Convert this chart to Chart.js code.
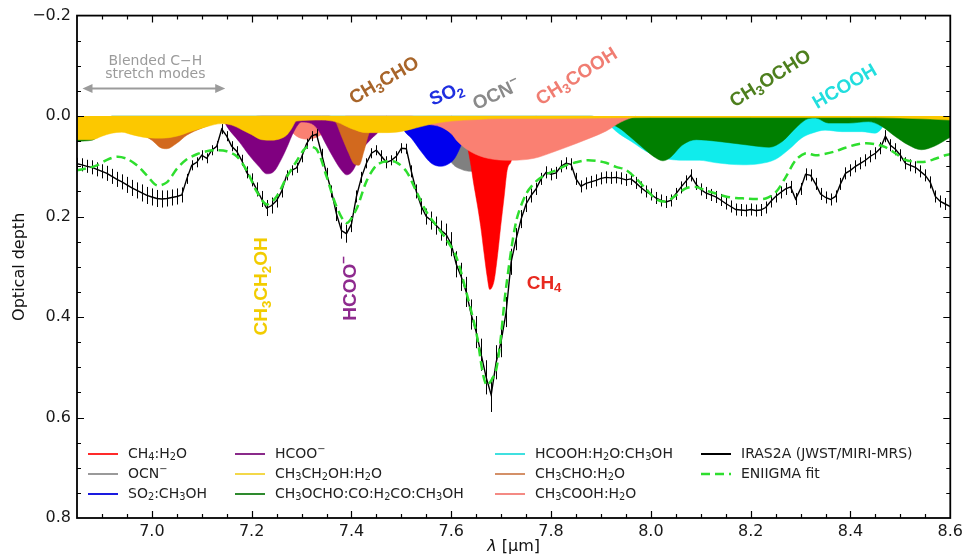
<!DOCTYPE html>
<html>
<head>
<meta charset="utf-8">
<title>IRAS2A ice fit</title>
<script src="https://cdn.jsdelivr.net/npm/chart.js@4.4.1/dist/chart.umd.min.js"></script>
<style>
  html, body { margin: 0; padding: 0; background: #fff; }
</style>
</head>
<body>
<canvas id="spec" width="967" height="556"></canvas>
<script>
// observed spectrum (0.01 um grid starting at 6.85)
const obsStart = 6.85;
const obsStep = 0.01;
const obsTau = [
  0.095, 0.097, 0.100, 0.102, 0.106, 0.110, 0.114, 0.120, 0.126, 0.131,
  0.137, 0.143, 0.148, 0.153, 0.158, 0.161, 0.164, 0.165, 0.164, 0.162,
  0.160, 0.157, 0.125, 0.098, 0.092, 0.078, 0.084, 0.068, 0.060, 0.026,
  0.040, 0.060, 0.070, 0.088, 0.112, 0.127, 0.146, 0.165, 0.183, 0.178,
  0.168, 0.150, 0.118, 0.108, 0.103, 0.082, 0.055, 0.040, 0.036, 0.075,
  0.114, 0.150, 0.195, 0.228, 0.234, 0.215, 0.160, 0.122, 0.094, 0.074,
  0.068, 0.080, 0.092, 0.088, 0.080, 0.064, 0.065, 0.110, 0.150, 0.180,
  0.200, 0.208, 0.218, 0.228, 0.236, 0.255, 0.295, 0.320, 0.350, 0.395,
  0.430, 0.475, 0.520, 0.555, 0.490, 0.448, 0.390, 0.290, 0.245, 0.205,
  0.175, 0.158, 0.145, 0.125, 0.112, 0.116, 0.113, 0.100, 0.094, 0.096,
  0.125, 0.140, 0.134, 0.131, 0.128, 0.124, 0.122, 0.123, 0.122, 0.124,
  0.127, 0.125, 0.133, 0.142, 0.150, 0.156, 0.163, 0.168, 0.171, 0.168,
  0.155, 0.142, 0.130, 0.118, 0.135, 0.146, 0.153, 0.157, 0.161, 0.167,
  0.174, 0.180, 0.186, 0.187, 0.188, 0.186, 0.188, 0.187, 0.182, 0.170,
  0.160, 0.152, 0.145, 0.141, 0.165, 0.145, 0.116, 0.118, 0.135, 0.155,
  0.162, 0.166, 0.160, 0.135, 0.114, 0.108, 0.100, 0.094, 0.088, 0.080,
  0.074, 0.064, 0.040, 0.058, 0.066, 0.078, 0.094, 0.098, 0.102, 0.110,
  0.118, 0.132, 0.160, 0.170, 0.175, 0.180
];
const obsErr = [
  0.012, 0.013, 0.013, 0.014, 0.014, 0.014, 0.015, 0.015, 0.015, 0.015,
  0.016, 0.016, 0.016, 0.017, 0.017, 0.017, 0.017, 0.017, 0.016, 0.016,
  0.016, 0.015, 0.010, 0.010, 0.010, 0.010, 0.010, 0.010, 0.010, 0.010,
  0.010, 0.010, 0.010, 0.011, 0.012, 0.013, 0.014, 0.016, 0.016, 0.016,
  0.014, 0.012, 0.010, 0.010, 0.010, 0.010, 0.010, 0.010, 0.010, 0.010,
  0.011, 0.012, 0.014, 0.016, 0.018, 0.016, 0.012, 0.011, 0.010, 0.010,
  0.010, 0.012, 0.012, 0.010, 0.010, 0.010, 0.010, 0.012, 0.014, 0.016,
  0.016, 0.018, 0.018, 0.020, 0.022, 0.024, 0.026, 0.028, 0.030, 0.030,
  0.032, 0.032, 0.034, 0.034, 0.034, 0.032, 0.030, 0.026, 0.022, 0.018,
  0.016, 0.014, 0.012, 0.012, 0.012, 0.012, 0.012, 0.012, 0.012, 0.012,
  0.012, 0.012, 0.012, 0.012, 0.012, 0.012, 0.012, 0.012, 0.012, 0.012,
  0.012, 0.012, 0.012, 0.012, 0.012, 0.012, 0.012, 0.012, 0.012, 0.012,
  0.012, 0.012, 0.012, 0.012, 0.012, 0.012, 0.012, 0.012, 0.012, 0.012,
  0.012, 0.012, 0.012, 0.012, 0.012, 0.012, 0.012, 0.012, 0.012, 0.012,
  0.012, 0.012, 0.012, 0.012, 0.012, 0.012, 0.012, 0.012, 0.012, 0.012,
  0.012, 0.012, 0.012, 0.012, 0.012, 0.012, 0.012, 0.012, 0.012, 0.012,
  0.012, 0.012, 0.012, 0.012, 0.012, 0.012, 0.012, 0.012, 0.012, 0.012,
  0.012, 0.012, 0.012, 0.012, 0.012, 0.012
];

// ENIIGMA fit (0.02 um grid starting at 6.85)
const fitStart = 6.85;
const fitStep = 0.02;
const fitTau = [
  0.108, 0.104, 0.098, 0.087, 0.081, 0.085, 0.098, 0.118, 0.138, 0.132,
  0.105, 0.086, 0.076, 0.070, 0.068, 0.070, 0.080, 0.108, 0.150, 0.176,
  0.160, 0.122, 0.090, 0.062, 0.066, 0.120, 0.180, 0.213, 0.185, 0.130,
  0.098, 0.090, 0.092, 0.110, 0.150, 0.190, 0.218, 0.245, 0.280, 0.350,
  0.430, 0.535, 0.505, 0.340, 0.210, 0.155, 0.130, 0.116, 0.108, 0.098,
  0.092, 0.088, 0.089, 0.093, 0.101, 0.107, 0.124, 0.145, 0.165, 0.170,
  0.158, 0.144, 0.141, 0.148, 0.154, 0.160, 0.163, 0.164, 0.165, 0.164,
  0.152, 0.122, 0.088, 0.074, 0.078, 0.075, 0.070, 0.063, 0.057, 0.054,
  0.056, 0.062, 0.074, 0.087, 0.091, 0.091, 0.085, 0.078, 0.074
];

// ice components (wavelength, optical depth)
const ch4Lam = [7.60, 7.62, 7.63, 7.638, 7.645, 7.652, 7.659, 7.666, 7.672, 7.677, 7.682, 7.686, 7.693, 7.699, 7.706, 7.712, 7.72, 7.73, 7.75, 7.77];
const ch4Tau = [0.0, 0.02, 0.05, 0.09, 0.135, 0.175, 0.22, 0.275, 0.32, 0.345, 0.34, 0.327, 0.275, 0.22, 0.16, 0.108, 0.09, 0.05, 0.015, 0.0];

const ocnLam = [7.56, 7.58, 7.60, 7.62, 7.64, 7.66, 7.68, 7.70, 7.72];
const ocnTau = [0.0, 0.05, 0.092, 0.106, 0.110, 0.108, 0.095, 0.06, 0.0];

const so2Lam = [7.49, 7.507, 7.52, 7.54, 7.56, 7.58, 7.595, 7.607, 7.62, 7.635, 7.65];
const so2Tau = [0.0, 0.031, 0.044, 0.071, 0.094, 0.10, 0.095, 0.084, 0.058, 0.025, 0.0];

const hcooLam = [7.14, 7.15, 7.175, 7.195, 7.215, 7.23, 7.245, 7.26, 7.27, 7.285, 7.30, 7.32, 7.335, 7.35, 7.365, 7.38, 7.39, 7.40, 7.41, 7.42, 7.44, 7.455, 7.47];
const hcooTau = [0.0, 0.02, 0.051, 0.078, 0.101, 0.115, 0.11, 0.085, 0.064, 0.03, 0.012, 0.015, 0.03, 0.058, 0.085, 0.108, 0.117, 0.112, 0.095, 0.07, 0.045, 0.03, 0.0];

const ethLam = [6.85, 6.88, 6.90, 6.92, 6.94, 6.96, 6.99, 7.02, 7.05, 7.08, 7.11, 7.14, 7.16, 7.18, 7.20, 7.22, 7.24, 7.26, 7.27, 7.28, 7.29, 7.34, 7.37, 7.40, 7.43, 7.46, 7.49, 7.52, 7.56, 7.60, 7.65, 7.70, 7.80, 7.90, 8.00, 8.20, 8.40, 8.50, 8.56, 8.60];
const ethTau = [0.047, 0.047, 0.040, 0.034, 0.032, 0.037, 0.043, 0.044, 0.040, 0.030, 0.021, 0.015, 0.018, 0.027, 0.037, 0.047, 0.048, 0.044, 0.038, 0.025, 0.010, 0.008, 0.012, 0.025, 0.033, 0.033, 0.032, 0.026, 0.016, 0.010, 0.007, 0.005, 0.005, 0.004, 0.003, 0.003, 0.003, 0.004, 0.006, 0.008];

const mfLam = [6.85, 6.88, 6.90, 6.92, 7.88, 7.91, 7.937, 7.957, 7.985, 8.011, 8.024, 8.037, 8.064, 8.091, 8.131, 8.197, 8.237, 8.264, 8.29, 8.316, 8.33, 8.356, 8.396, 8.436, 8.462, 8.489, 8.515, 8.542, 8.568, 8.60];
const mfTau = [0.05, 0.048, 0.03, 0.0, 0.0, 0.012, 0.024, 0.040, 0.064, 0.084, 0.089, 0.084, 0.057, 0.047, 0.050, 0.058, 0.062, 0.050, 0.024, 0.005, 0.004, 0.014, 0.014, 0.011, 0.020, 0.040, 0.057, 0.067, 0.060, 0.042];

const faLam = [7.90, 7.93, 7.96, 8.00, 8.044, 8.07, 8.097, 8.131, 8.184, 8.217, 8.25, 8.277, 8.303, 8.323, 8.349, 8.383, 8.423, 8.449, 8.462, 8.475];
const faTau = [0.0, 0.03, 0.05, 0.075, 0.087, 0.088, 0.088, 0.093, 0.097, 0.095, 0.086, 0.066, 0.043, 0.034, 0.028, 0.031, 0.031, 0.034, 0.025, 0.0];

const acdLam = [6.95, 6.98, 7.00, 7.02, 7.03, 7.05, 7.07, 7.10, 7.13, 7.16, 7.19, 7.22, 7.34, 7.355, 7.368, 7.38, 7.395, 7.405, 7.415, 7.425, 7.435, 7.45, 7.47];
const acdTau = [0.0, 0.035, 0.048, 0.064, 0.065, 0.054, 0.038, 0.024, 0.013, 0.006, 0.003, 0.0, 0.0, 0.0, 0.011, 0.04, 0.075, 0.095, 0.098, 0.07, 0.035, 0.015, 0.0];

const aaLam = [7.25, 7.27, 7.29, 7.31, 7.33, 7.35, 7.37, 7.39, 7.52, 7.55, 7.58, 7.60, 7.613, 7.639, 7.673, 7.719, 7.766, 7.806, 7.852, 7.88, 7.91, 7.94, 7.97];
const aaTau = [0.0, 0.02, 0.04, 0.046, 0.042, 0.03, 0.015, 0.0, 0.0, 0.015, 0.022, 0.035, 0.051, 0.071, 0.084, 0.088, 0.084, 0.071, 0.054, 0.043, 0.03, 0.012, 0.0];

const xTickVals = [7.0, 7.2, 7.4, 7.6, 7.8, 8.0, 8.2, 8.4, 8.6];
const xTickLabels = ['7.0', '7.2', '7.4', '7.6', '7.8', '8.0', '8.2', '8.4', '8.6'];
const yTickVals = [-0.2, 0.0, 0.2, 0.4, 0.6, 0.8];
const yTickLabels = ['\u22120.2', '0.0', '0.2', '0.4', '0.6', '0.8'];

// molecule labels written on the plot (data coordinates)
const molLabels = [
  { text: 'CH_3CHO', lam: 7.466, tau: -0.070, rot: -30, color: '#a8652a' },
  { text: 'SO_2', lam: 7.591, tau: -0.043, rot: -22, color: '#1f2fe0' },
  { text: 'OCN^\u2212', lam: 7.691, tau: -0.042, rot: -25, color: '#8a8a8a' },
  { text: 'CH_3COOH', lam: 7.852, tau: -0.078, rot: -32, color: '#f07d72' },
  { text: 'CH_3OCHO', lam: 8.240, tau: -0.074, rot: -32, color: '#4e7f1e' },
  { text: 'HCOOH', lam: 8.389, tau: -0.058, rot: -30, color: '#22dede' },
  { text: 'CH_3CH_2OH', lam: 7.221, tau: 0.339, rot: -90, color: '#f2cc00' },
  { text: 'HCOO^\u2212', lam: 7.398, tau: 0.343, rot: -90, color: '#8e2a8e' },
  { text: 'CH_4', lam: 7.786, tau: 0.333, rot: 0, color: '#e82a20' }
];

const legendColumns = [
  ['CH_4:H_2O', 'OCN^\u2212', 'SO_2:CH_3OH'],
  ['HCOO^\u2212', 'CH_3CH_2OH:H_2O', 'CH_3OCHO:CO:H_2CO:CH_3OH'],
  ['HCOOH:H_2O:CH_3OH', 'CH_3CHO:H_2O', 'CH_3COOH:H_2O'],
  ['IRAS2A (JWST/MIRI-MRS)', 'ENIIGMA fit']
];

function pts(lam, tau) {
  return lam.map((l, i) => ({ x: l, y: tau[i] }));
}
function gridPts(start, step, tau) {
  return tau.map((t, i) => ({ x: +(start + i * step).toFixed(3), y: t }));
}

function ice(label, lam, tau, color, legendColor, order) {
  return {
    label, data: pts(lam, tau), order, legendColor,
    backgroundColor: color, borderColor: color, borderWidth: 0.5,
    fill: 'origin', pointRadius: 0, cubicInterpolationMode: 'monotone'
  };
}

// draws "CH_3" style text: _x is subscript, ^x superscript
function drawRich(ctx, text, x, y, size, weight, family, align) {
  const parts = [];
  for (let i = 0; i < text.length; i++) {
    const c = text[i];
    if ((c === '_' || c === '^') && i + 1 < text.length) {
      parts.push({ t: text[i + 1], k: c });
      i++;
    } else if (parts.length && parts[parts.length - 1].k === '') {
      parts[parts.length - 1].t += c;
    } else {
      parts.push({ t: c, k: '' });
    }
  }
  const small = size * 0.7;
  const fontFor = k => `${weight} ${k ? small : size}px ${family}`;
  let total = 0;
  parts.forEach(p => {
    ctx.font = fontFor(p.k);
    p.w = ctx.measureText(p.t).width;
    total += p.w;
  });
  let cx = align === 'center' ? x - total / 2 : x;
  ctx.textAlign = 'left';
  ctx.textBaseline = 'middle';
  parts.forEach(p => {
    ctx.font = fontFor(p.k);
    const dy = p.k === '_' ? size * 0.27 : (p.k === '^' ? -size * 0.32 : 0);
    ctx.fillText(p.t, cx, y + dy);
    cx += p.w;
  });
}

// vertical error bars on the observed spectrum
const errorBars = {
  id: 'errorBars',
  afterDatasetDraw(chart, args) {
    const ds = chart.data.datasets[args.index];
    if (!ds.errors) return;
    const { ctx, chartArea: a, scales: { x, y } } = chart;
    ctx.save();
    ctx.beginPath();
    ctx.rect(a.left, a.top, a.right - a.left, a.bottom - a.top);
    ctx.clip();
    ctx.strokeStyle = '#000';
    ctx.lineWidth = 1;
    ctx.beginPath();
    ds.data.forEach((p, i) => {
      const px = Math.round(x.getPixelForValue(p.x)) + 0.5;
      ctx.moveTo(px, y.getPixelForValue(p.y - ds.errors[i]));
      ctx.lineTo(px, y.getPixelForValue(p.y + ds.errors[i]));
    });
    ctx.stroke();
    ctx.restore();
  }
};

// frame, inward ticks, annotations, legend, axis titles
const decor = {
  id: 'decor',
  afterDraw(chart) {
    const { ctx, chartArea: a, scales: { x, y } } = chart;
    ctx.save();

    // inward ticks on all four sides
    ctx.strokeStyle = '#000';
    ctx.lineWidth = 1.2;
    ctx.beginPath();
    for (let k = 138; k < 172; k++) {
      const px = Math.round(x.getPixelForValue(k * 0.05)) + 0.5;
      const len = k % 4 === 0 ? 7 : 4;
      ctx.moveTo(px, a.bottom); ctx.lineTo(px, a.bottom - len);
      ctx.moveTo(px, a.top); ctx.lineTo(px, a.top + len);
    }
    for (let k = -3; k < 16; k++) {
      const py = Math.round(y.getPixelForValue(k * 0.05)) + 0.5;
      const len = k % 4 === 0 ? 7 : 4;
      ctx.moveTo(a.left, py); ctx.lineTo(a.left + len, py);
      ctx.moveTo(a.right, py); ctx.lineTo(a.right - len, py);
    }
    ctx.stroke();

    // frame
    ctx.lineWidth = 1.8;
    ctx.strokeRect(a.left, a.top, a.right - a.left, a.bottom - a.top);

    // blended C-H arrow
    const ay = y.getPixelForValue(-0.055);
    const ax0 = x.getPixelForValue(6.861);
    const ax1 = x.getPixelForValue(7.147);
    ctx.strokeStyle = '#9b9b9b';
    ctx.fillStyle = '#9b9b9b';
    ctx.lineWidth = 2;
    ctx.beginPath();
    ctx.moveTo(ax0 + 6, ay); ctx.lineTo(ax1 - 6, ay);
    ctx.stroke();
    ctx.beginPath();
    ctx.moveTo(ax0, ay); ctx.lineTo(ax0 + 10, ay - 4.5); ctx.lineTo(ax0 + 10, ay + 4.5); ctx.closePath();
    ctx.moveTo(ax1, ay); ctx.lineTo(ax1 - 10, ay - 4.5); ctx.lineTo(ax1 - 10, ay + 4.5); ctx.closePath();
    ctx.fill();
    ctx.font = '14px "DejaVu Sans"';
    ctx.textAlign = 'center';
    ctx.textBaseline = 'middle';
    ctx.fillText('Blended C\u2212H', x.getPixelForValue(7.007), y.getPixelForValue(-0.108));
    ctx.fillText('stretch modes', x.getPixelForValue(7.007), y.getPixelForValue(-0.084));

    // molecule labels
    molLabels.forEach(m => {
      ctx.save();
      ctx.translate(x.getPixelForValue(m.lam), y.getPixelForValue(m.tau));
      ctx.rotate(m.rot * Math.PI / 180);
      ctx.fillStyle = m.color;
      drawRich(ctx, m.text, 0, 0, 19, 'bold', '"Liberation Sans", Arial, sans-serif', 'center');
      ctx.restore();
    });

    // legend, four columns
    const colX = [88, 235, 495, 701];
    const rowY = [454, 474, 494];
    const byLabel = {};
    chart.data.datasets.forEach(d => { byLabel[d.label] = d; });
    legendColumns.forEach((col, ci) => {
      col.forEach((lab, ri) => {
        const d = byLabel[lab];
        const lx = colX[ci], ly = rowY[ri];
        ctx.strokeStyle = d.legendColor;
        ctx.lineWidth = d.borderDash ? 2.5 : 2;
        ctx.setLineDash(d.borderDash || []);
        ctx.beginPath();
        ctx.moveTo(lx, ly); ctx.lineTo(lx + 30, ly);
        ctx.stroke();
        ctx.setLineDash([]);
        ctx.fillStyle = '#222';
        drawRich(ctx, lab, lx + 40, ly, 14, 'normal', '"DejaVu Sans"', 'left');
      });
    });

    // axis titles
    ctx.fillStyle = '#111';
    ctx.save();
    ctx.translate(20, (a.top + a.bottom) / 2);
    ctx.rotate(-Math.PI / 2);
    ctx.font = '16px "DejaVu Sans"';
    ctx.textAlign = 'center';
    ctx.textBaseline = 'middle';
    ctx.fillText('Optical depth', 0, 0);
    ctx.restore();

    ctx.font = 'italic 16px "DejaVu Sans"';
    const w1 = ctx.measureText('\u03bb').width;
    ctx.font = '16px "DejaVu Sans"';
    const w2 = ctx.measureText(' [\u00b5m]').width;
    const tx = (a.left + a.right) / 2 - (w1 + w2) / 2;
    ctx.textAlign = 'left';
    ctx.textBaseline = 'middle';
    ctx.font = 'italic 16px "DejaVu Sans"';
    ctx.fillText('\u03bb', tx, 547);
    ctx.font = '16px "DejaVu Sans"';
    ctx.fillText(' [\u00b5m]', tx + w1, 547);

    ctx.restore();
  }
};

const datasets = [
  {
    label: 'ENIIGMA fit', data: gridPts(fitStart, fitStep, fitTau), order: 0,
    borderColor: '#2ede2e', borderWidth: 2.5, borderDash: [9, 5], legendColor: '#2ede2e',
    pointRadius: 0, fill: false, tension: 0.3
  },
  {
    label: 'IRAS2A (JWST/MIRI-MRS)', data: gridPts(obsStart, obsStep, obsTau), errors: obsErr, order: 1,
    borderColor: '#000', borderWidth: 1.4, legendColor: '#000',
    pointRadius: 0, fill: false, tension: 0
  },
  ice('CH_3CH_2OH:H_2O', ethLam, ethTau, '#fcc800', '#f3d84a', 2),
  ice('CH_3CHO:H_2O', acdLam, acdTau, '#d2691e', '#d49068', 3),
  ice('HCOO^\u2212', hcooLam, hcooTau, '#800080', '#8a2a8a', 4),
  ice('CH_3COOH:H_2O', aaLam, aaTau, '#fa8072', '#f48a84', 5),
  ice('CH_4:H_2O', ch4Lam, ch4Tau, '#ff0000', '#ff2a2a', 6),
  ice('SO_2:CH_3OH', so2Lam, so2Tau, '#0000ee', '#1a1ae0', 7),
  ice('OCN^\u2212', ocnLam, ocnTau, '#808080', '#9a9a9a', 8),
  ice('CH_3OCHO:CO:H_2CO:CH_3OH', mfLam, mfTau, '#007f00', '#2e8a2e', 9),
  ice('HCOOH:H_2O:CH_3OH', faLam, faTau, '#10ecec', '#40e0e0', 10)
];

new Chart(document.getElementById('spec'), {
  type: 'line',
  data: { datasets },
  options: {
    responsive: false,
    animation: false,
    layout: { padding: { top: 15, right: 11, left: 0, bottom: 0 } },
    plugins: {
      legend: { display: false },
      tooltip: { enabled: false }
    },
    scales: {
      x: {
        type: 'linear', min: 6.85, max: 8.6,
        grid: { display: false, drawTicks: false },
        border: { display: false },
        afterBuildTicks: s => { s.ticks = xTickVals.map(v => ({ value: v })); },
        afterFit: s => { s.height = 38; },
        ticks: {
          autoSkip: false, maxRotation: 0, padding: 4, color: '#1a1a1a',
          font: { family: 'DejaVu Sans', size: 16 },
          callback: (v, i) => xTickLabels[i]
        }
      },
      y: {
        type: 'linear', min: -0.2, max: 0.8, reverse: true,
        grid: { display: false, drawTicks: false },
        border: { display: false },
        afterBuildTicks: s => { s.ticks = yTickVals.map(v => ({ value: v })); },
        afterFit: s => { s.width = 77; },
        ticks: {
          autoSkip: false, padding: 6, color: '#1a1a1a',
          font: { family: 'DejaVu Sans', size: 16 },
          callback: (v, i) => yTickLabels[i]
        }
      }
    }
  },
  plugins: [errorBars, decor]
});
</script>
</body>
</html>
